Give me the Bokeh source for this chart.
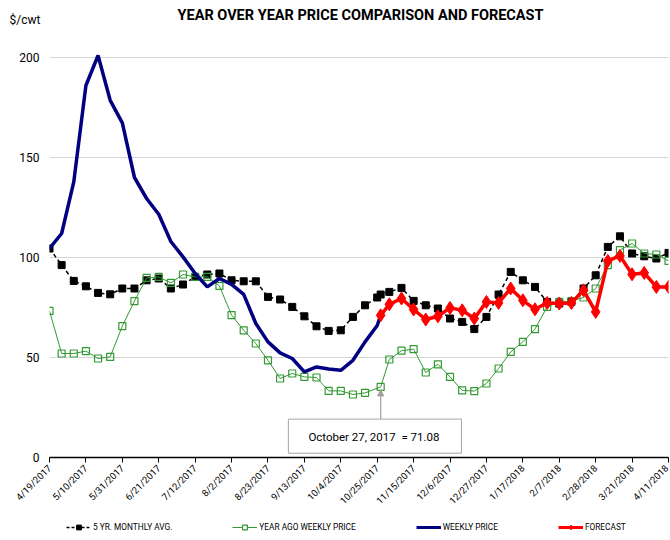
import math
import pandas as pd
from bokeh.plotting import figure
from bokeh.layouts import column
from bokeh.models import (FixedTicker, Legend, LegendItem, BoxAnnotation, Label,
                          Arrow, NormalHead, ColumnDataSource, Range1d, Plot)
from bokeh.embed import file_html
from bokeh.resources import INLINE

FONT = "Roboto"

# ---------------- data ----------------
week_dates = list(pd.date_range("2017-04-19", "2018-04-11", freq="7D"))
forecast_date = pd.Timestamp("2017-10-27")
dates = sorted(week_dates + [forecast_date])

five_yr_avg = [104.5, 96.2, 88.3, 85.6, 82.3, 81.6, 84.5, 84.5, 88.6, 89.5,
               84.5, 86.5, 90.3, 91.5, 92.0, 88.6, 88.1, 88.1, 80.3, 79.0,
               75.3, 70.6, 65.6, 63.3, 63.6, 70.3, 76.1, 80.0, 81.5, 82.8,
               84.8, 78.3, 76.1, 74.5, 69.5, 67.8, 64.2, 70.3, 81.5, 92.8,
               88.6, 85.3, 77.8, 77.0, 77.8, 84.5, 91.1, 105.3, 110.6, 102.0,
               100.6, 99.5, 102.3]

year_ago = [73.3, 52.0, 52.0, 53.2, 49.5, 50.3, 65.7, 78.2, 89.8, 90.3,
            87.3, 91.5, 90.3, 90.3, 85.8, 71.2, 63.6, 57.0, 48.6, 39.5,
            42.0, 40.3, 40.0, 33.3, 33.3, 31.5, 32.3, None, 35.3, 49.0,
            53.4, 54.2, 42.5, 46.6, 40.3, 33.6, 33.2, 37.0, 44.5, 52.8,
            57.8, 64.2, 75.3, 77.8, 78.2, 80.0, 84.5, 96.2, 103.7, 107.0,
            102.0, 101.5, 98.3]

weekly_price = [104.5, 112.0, 137.8, 186.0, 201.0, 178.6, 167.3, 140.0, 129.5, 121.6,
                108.0, 100.3, 92.0, 85.3, 89.5, 86.6, 81.6, 67.0, 57.8, 52.3,
                49.5, 42.8, 45.3, 44.3, 43.6, 48.6, 57.8, 66.0, 71.08] + [None] * 24

forecast = [None] * 28 + [71.08, 76.6, 79.5, 74.0, 69.0, 70.6, 74.8, 73.6, 69.5, 77.8,
                          77.3, 84.5, 78.6, 74.1, 77.3, 77.0, 77.3, 83.6, 72.8, 98.3,
                          100.8, 91.6, 92.3, 85.3, 85.3]

y_ticks = [0, 50, 100, 150, 200]
series_names = ["5 YR. MONTHLY AVG.", "YEAR AGO WEEKLY PRICE", "WEEKLY PRICE", "FORECAST"]
title_text = "YEAR OVER YEAR PRICE COMPARISON AND FORECAST"
unit_text = "$/cwt"
annotation_text = "October 27, 2017\u00a0 = 71.08"

# ---------------- helpers ----------------
def week_pos(d):
    return (d - dates[0]).days / 7.0

xs = [week_pos(d) for d in dates]

def src(vals):
    pts = [(x, v) for x, v in zip(xs, vals) if v is not None]
    return ColumnDataSource(dict(x=[p[0] for p in pts], y=[p[1] for p in pts]))

tick_pos = [int(round(week_pos(d))) for d in week_dates[::3]]
tick_lab = {int(round(week_pos(d))): f"{d.month}/{d.day}/{d.year}" for d in week_dates[::3]}

GREEN = "#339933"
NAVY = "#000080"
RED = "#ff0000"
W = 670
HAS_FRAME_ALIGN = "frame_align" in Plot.properties()

def no_align(f):
    if HAS_FRAME_ALIGN:
        f.frame_align = False
    return f

def bare(h):
    f = figure(width=W, height=h, output_backend="svg", toolbar_location=None,
               x_range=Range1d(0, W), y_range=Range1d(0, h),
               x_axis_type=None, y_axis_type=None, min_border=0,
               min_border_left=0, min_border_right=0, min_border_top=0,
               min_border_bottom=0)
    f.outline_line_color = None
    f.grid.visible = False
    return no_align(f)

# ---------------- header ----------------
HEAD_H = 37
head = bare(HEAD_H)
head.add_layout(Label(x=360, y=HEAD_H - 15, text=title_text, text_align="center",
                      text_baseline="middle", text_font=FONT, text_font_style="bold",
                      text_font_size="14.5px", text_color="black"))
head.add_layout(Label(x=9, y=HEAD_H - 19.5, text=unit_text, text_align="left",
                      text_baseline="middle", text_font=FONT, text_font_size="12px",
                      text_color="black"))

# ---------------- main chart ----------------
MAIN_H = 480
p = figure(width=W, height=MAIN_H, output_backend="svg", toolbar_location=None,
           x_range=Range1d(0, 51), y_range=Range1d(0, 210),
           min_border_left=49, min_border_right=2, min_border_top=0,
           min_border_bottom=MAIN_H - 420)
no_align(p)
p.outline_line_color = None
p.background_fill_color = "white"

p.xaxis.ticker = FixedTicker(ticks=tick_pos)
p.xaxis.major_label_overrides = tick_lab
p.xaxis.major_label_orientation = math.pi / 4
p.xaxis.major_label_text_font = FONT
p.xaxis.major_label_text_font_size = "9.5px"
p.xaxis.major_label_text_color = "black"
p.xaxis.axis_line_width = 1.5
p.xaxis.axis_line_color = "black"
p.xaxis.major_tick_in = 0
p.xaxis.major_tick_out = 5
p.xaxis.major_tick_line_color = "black"
p.xaxis.minor_tick_line_color = None
p.xaxis.major_label_standoff = 4

p.yaxis.ticker = FixedTicker(ticks=y_ticks)
p.yaxis.axis_line_color = None
p.yaxis.major_tick_line_color = None
p.yaxis.minor_tick_line_color = None
p.yaxis.major_tick_out = 0
p.yaxis.major_tick_in = 0
p.yaxis.major_label_standoff = 10
p.yaxis.major_label_text_font = FONT
p.yaxis.major_label_text_font_size = "12px"
p.yaxis.major_label_text_color = "black"

p.xgrid.visible = False
p.ygrid.ticker = FixedTicker(ticks=y_ticks[1:])
p.ygrid.grid_line_color = "#d4d4d4"
p.ygrid.grid_line_width = 1

s5 = src(five_yr_avg)
p.line("x", "y", source=s5, line_color="black", line_width=1.5, line_dash="4 3")
p.scatter("x", "y", source=s5, marker="square", size=7, fill_color="black",
          line_color="black")

sg = src(year_ago)
p.line("x", "y", source=sg, line_color=GREEN, line_width=1)
p.scatter("x", "y", source=sg, marker="square", size=7, fill_color=None,
          line_color=GREEN, line_width=1.2)

sw = src(weekly_price)
p.line("x", "y", source=sw, line_color=NAVY, line_width=3.5)

sf = src(forecast)
p.line("x", "y", source=sf, line_color=RED, line_width=3.5)
p.scatter("x", "y", source=sf, marker="diamond", size=13, fill_color=RED,
          line_color=RED)

fx = week_pos(forecast_date)
p.add_layout(Arrow(end=NormalHead(size=6, fill_color="#a0a0a0", line_color="#a0a0a0"),
                   x_start=fx, y_start=19.2, x_end=fx, y_end=33.8,
                   line_color="#a0a0a0", line_width=1.2))
p.add_layout(BoxAnnotation(left=19.68, right=33.94, bottom=2.15, top=19.2,
                           fill_color="white", fill_alpha=1.0,
                           line_color="#a6a6a6", line_width=1, line_alpha=1.0))
p.add_layout(Label(x=26.73, y=10.5, text=annotation_text, text_align="center",
                   text_baseline="middle", text_font=FONT, text_font_size="11.5px",
                   text_color="black"))

# ---------------- legend strip ----------------
FOOT_H = 540 - HEAD_H - MAIN_H
foot = bare(FOOT_H)
off = dict(x=[-1000, -999], y=[-1000, -1000])   # keeps legend glyph sources non-empty, off view
l1 = foot.line(x=off["x"], y=off["y"], line_color="black", line_width=1.5, line_dash="3 2")
m1 = foot.scatter(x=off["x"], y=off["y"], marker="square", size=7, fill_color="black",
                  line_color="black")
l2 = foot.line(x=off["x"], y=off["y"], line_color=GREEN, line_width=1)
m2 = foot.scatter(x=off["x"], y=off["y"], marker="square", size=7, fill_color="white",
                  line_color=GREEN, line_width=1.2)
l3 = foot.line(x=off["x"], y=off["y"], line_color=NAVY, line_width=3)
l4 = foot.line(x=off["x"], y=off["y"], line_color=RED, line_width=3)
m4 = foot.scatter(x=off["x"], y=off["y"], marker="diamond", size=7, fill_color=RED,
                  line_color=RED)

legend = Legend(items=[
    LegendItem(label=series_names[0], renderers=[l1, m1]),
    LegendItem(label=series_names[1], renderers=[l2, m2]),
    LegendItem(label=series_names[2], renderers=[l3]),
    LegendItem(label=series_names[3], renderers=[l4, m4]),
], orientation="horizontal", location=(66, FOOT_H - 10 - 6))
legend.label_text_font = FONT
legend.label_text_font_size = "8.3px"
legend.label_text_color = "black"
legend.glyph_width = 25
legend.glyph_height = 12
legend.label_height = 12
legend.label_standoff = 2
legend.spacing = 60
legend.padding = 0
legend.margin = 0
legend.border_line_color = None
legend.background_fill_alpha = 0
foot.add_layout(legend, "center")

layout = column(head, p, foot, spacing=0)
open("out.html", "w").write(file_html(layout, INLINE))
